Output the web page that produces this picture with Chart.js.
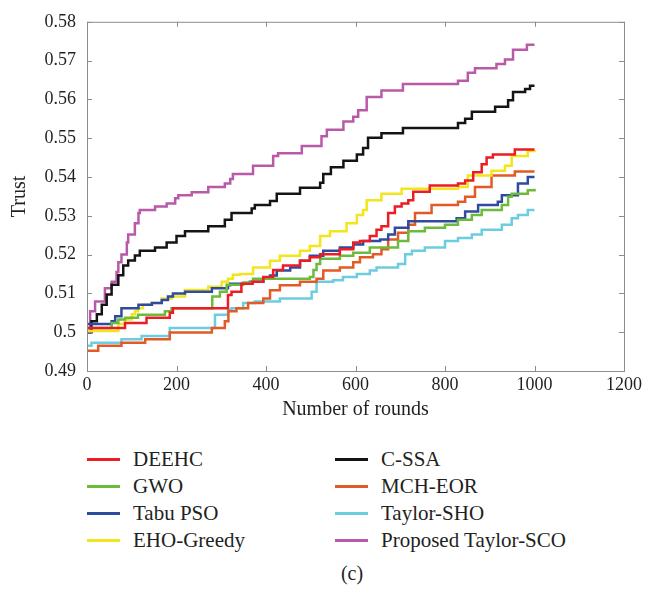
<!DOCTYPE html>
<html>
<head>
<meta charset="utf-8">
<script src="https://cdn.jsdelivr.net/npm/chart.js@4/dist/chart.umd.min.js"></script>
<style>
  body { margin: 0; background: #fff; }
  #wrap { position: relative; width: 645px; height: 593px; font-family: "Liberation Serif", serif; color: #231f20; }
  #myChart { position: absolute; left: 0; top: 0; }
  .leg { position: absolute; font-size: 21px; line-height: 24px; white-space: nowrap; }
  .leg span.ln { position: absolute; width: 33px; height: 3px; top: 11px; }
  #cap { position: absolute; left: 0; width: 704px; top: 562px; text-align: center; font-size: 20px; }
</style>
</head>
<body>
<div id="wrap">
  <canvas id="myChart" width="645" height="425"></canvas>
  <div id="legend"></div>
  <div id="cap">(c)</div>
</div>
<script>
// eje x: numero de rondas, eje y: confianza (trust)
var xTicks = [0, 200, 400, 600, 800, 1000, 1200];
var yTicks = [0.49, 0.50, 0.51, 0.52, 0.53, 0.54, 0.55, 0.56, 0.57, 0.58];

var seriesNames = ["DEEHC", "GWO", "Tabu PSO", "EHO-Greedy", "C-SSA", "MCH-EOR", "Taylor-SHO", "Proposed Taylor-SCO"];

var deehcX = [0, 85, 133, 185, 192, 315, 323, 345, 370, 394, 416, 438, 476, 498, 521, 565, 595, 610, 632, 647, 658, 673, 688, 703, 718, 729, 766, 829, 845, 863, 882, 893, 907, 956, 1000];
var deehcY = [0.5011, 0.5024, 0.5037, 0.505, 0.5062, 0.5096, 0.5104, 0.5125, 0.513, 0.5142, 0.516, 0.5172, 0.5184, 0.5193, 0.5201, 0.5214, 0.5231, 0.5235, 0.5248, 0.5264, 0.5273, 0.5307, 0.5324, 0.5332, 0.534, 0.5362, 0.5378, 0.5383, 0.5391, 0.5412, 0.5433, 0.545, 0.5458, 0.5471, 0.5471];

var gwoX = [0, 55, 70, 85, 114, 174, 189, 280, 297, 312, 349, 371, 498, 506, 513, 521, 565, 595, 632, 695, 718, 755, 800, 829, 860, 882, 927, 941, 949, 985, 1000];
var gwoY = [0.5011, 0.5024, 0.5033, 0.5037, 0.5045, 0.5054, 0.5062, 0.5092, 0.5104, 0.5122, 0.5128, 0.5138, 0.5142, 0.516, 0.5176, 0.5189, 0.5197, 0.5205, 0.5218, 0.5235, 0.526, 0.5269, 0.5277, 0.529, 0.5302, 0.5315, 0.5328, 0.5349, 0.5357, 0.5366, 0.537];

var tabuX = [0, 55, 63, 77, 115, 145, 167, 181, 192, 219, 279, 315, 320, 364, 394, 409, 424, 454, 476, 498, 528, 565, 595, 617, 655, 673, 688, 718, 826, 845, 874, 918, 927, 963, 985, 1000];
var tabuY = [0.5021, 0.5028, 0.5041, 0.5062, 0.5071, 0.5075, 0.5083, 0.5092, 0.51, 0.5104, 0.5113, 0.5121, 0.5125, 0.513, 0.5138, 0.5146, 0.5159, 0.5167, 0.5184, 0.5197, 0.521, 0.5218, 0.5226, 0.5235, 0.5239, 0.5252, 0.5269, 0.5286, 0.5294, 0.5311, 0.5328, 0.5336, 0.5353, 0.5383, 0.54, 0.54];

var ehoX = [0, 70, 85, 100, 107, 114, 125, 145, 167, 189, 219, 271, 301, 315, 326, 342, 371, 409, 431, 476, 498, 521, 543, 580, 603, 617, 625, 658, 703, 829, 851, 904, 934, 949, 985, 1000];
var ehoY = [0.5003, 0.5021, 0.5033, 0.5046, 0.5054, 0.5062, 0.5071, 0.5075, 0.5087, 0.5092, 0.5109, 0.5117, 0.513, 0.5138, 0.5148, 0.515, 0.5167, 0.5184, 0.5197, 0.521, 0.5222, 0.5248, 0.526, 0.5281, 0.5302, 0.5315, 0.534, 0.5357, 0.537, 0.5374, 0.5404, 0.5416, 0.5429, 0.5454, 0.5467, 0.547];

var cssaX = [0, 10, 22, 33, 44, 55, 70, 81, 92, 107, 118, 152, 178, 200, 219, 271, 308, 323, 368, 375, 409, 424, 476, 521, 528, 545, 573, 603, 617, 628, 658, 706, 829, 845, 860, 912, 941, 952, 979, 990, 1000];
var cssaY = [0.50, 0.5028, 0.5046, 0.5071, 0.5097, 0.5122, 0.5147, 0.5172, 0.5185, 0.5198, 0.521, 0.5218, 0.5231, 0.5248, 0.526, 0.5273, 0.529, 0.5307, 0.5319, 0.5328, 0.5338, 0.5357, 0.5372, 0.5385, 0.5408, 0.5425, 0.5442, 0.5458, 0.5475, 0.5501, 0.5513, 0.5526, 0.5539, 0.555, 0.5568, 0.5581, 0.5598, 0.5619, 0.5627, 0.5635, 0.5635];

var mchX = [0, 25, 77, 130, 185, 279, 308, 316, 334, 360, 394, 409, 431, 476, 513, 528, 565, 595, 610, 639, 658, 673, 695, 718, 733, 770, 829, 845, 867, 904, 956, 1000];
var mchY = [0.4952, 0.4965, 0.4973, 0.4982, 0.4999, 0.5011, 0.5028, 0.5054, 0.5062, 0.5075, 0.5087, 0.5108, 0.5121, 0.513, 0.5138, 0.5159, 0.5167, 0.518, 0.5193, 0.5201, 0.5214, 0.5239, 0.5256, 0.5277, 0.5307, 0.5328, 0.5336, 0.5349, 0.5374, 0.5404, 0.5414, 0.5414];

var shoX = [0, 10, 77, 122, 185, 286, 315, 323, 349, 375, 431, 502, 513, 550, 572, 603, 632, 647, 695, 711, 726, 755, 800, 829, 860, 882, 927, 949, 963, 985, 1000];
var shoY = [0.4965, 0.4973, 0.4982, 0.499, 0.5011, 0.5045, 0.5058, 0.5062, 0.5075, 0.5079, 0.5087, 0.5104, 0.513, 0.5134, 0.5142, 0.515, 0.5159, 0.5167, 0.5176, 0.5201, 0.521, 0.5218, 0.5235, 0.5243, 0.5252, 0.5264, 0.5277, 0.5294, 0.5302, 0.5315, 0.5315];

var scoX = [0, 7, 18, 40, 55, 66, 70, 77, 89, 92, 107, 115, 118, 152, 178, 197, 204, 234, 271, 308, 320, 326, 371, 416, 427, 480, 524, 536, 573, 595, 606, 625, 658, 706, 829, 851, 867, 915, 934, 952, 983, 1000];
var scoY = [0.50, 0.5054, 0.5079, 0.5113, 0.513, 0.5155, 0.518, 0.520, 0.5231, 0.5252, 0.5281, 0.5307, 0.5315, 0.5324, 0.5332, 0.5345, 0.5353, 0.5361, 0.5374, 0.5383, 0.5395, 0.5408, 0.5429, 0.5454, 0.5461, 0.548, 0.5505, 0.5522, 0.5543, 0.5555, 0.5572, 0.5606, 0.5623, 0.564, 0.5648, 0.5669, 0.568, 0.5691, 0.5703, 0.5728, 0.5741, 0.5741];

var colores = ["#ec1c24", "#6cbb3c", "#2e4b9f", "#f2e51c", "#141414", "#e25a26", "#6dcde0", "#b95aa9"];

// arma los puntos {x, y} de cada serie
function puntos(xs, ys) {
    var out = [];
    for (var i = 0; i < xs.length; i++) {
        out.push({x: xs[i], y: ys[i]});
    }
    return out;
}

var todos = [
    puntos(deehcX, deehcY), puntos(gwoX, gwoY), puntos(tabuX, tabuY), puntos(ehoX, ehoY),
    puntos(cssaX, cssaY), puntos(mchX, mchY), puntos(shoX, shoY), puntos(scoX, scoY)
];

var datasets = [];
for (var i = 0; i < seriesNames.length; i++) {
    datasets.push({
        label: seriesNames[i],
        data: todos[i],
        borderColor: colores[i],
        backgroundColor: colores[i],
        borderWidth: 2.5,
        pointRadius: 0,
        stepped: true,
        fill: false
    });
}

var fuente = {family: "'Liberation Serif', serif", size: 18};
var fuenteTitulo = {family: "'Liberation Serif', serif", size: 20};

// caja estilo matlab con ticks hacia adentro en los cuatro lados
var cajaTicks = {
    id: "cajaTicks",
    afterDraw: function(chart) {
        var ctx = chart.ctx, a = chart.chartArea;
        var sx = chart.scales.x, sy = chart.scales.y;
        ctx.save();
        ctx.strokeStyle = "#8c8c8c";
        ctx.lineWidth = 1;
        ctx.strokeRect(a.left + 0.5, a.top + 0.5, a.right - a.left, a.bottom - a.top);
        ctx.beginPath();
        xTicks.forEach(function(v) {
            var px = Math.round(sx.getPixelForValue(v)) + 0.5;
            ctx.moveTo(px, a.bottom); ctx.lineTo(px, a.bottom - 5);
            ctx.moveTo(px, a.top); ctx.lineTo(px, a.top + 5);
        });
        yTicks.forEach(function(v) {
            var py = Math.round(sy.getPixelForValue(v)) + 0.5;
            ctx.moveTo(a.left, py); ctx.lineTo(a.left + 5, py);
            ctx.moveTo(a.right, py); ctx.lineTo(a.right - 5, py);
        });
        ctx.stroke();
        ctx.restore();
    }
};

var ctx = document.getElementById("myChart");
var grafico = new Chart(ctx, {
    type: "line",
    data: {datasets: datasets},
    plugins: [cajaTicks],
    options: {
        responsive: false,
        animation: false,
        layout: {padding: {top: 15, right: 21, bottom: 0, left: 0}},
        plugins: {legend: {display: false}, tooltip: {enabled: false}},
        scales: {
            x: {
                type: "linear", min: 0, max: 1200,
                afterBuildTicks: function(s) { s.ticks = xTicks.map(function(v) { return {value: v}; }); },
                afterFit: function(s) { s.height = 54; },
                grid: {display: false, drawTicks: false},
                border: {display: false},
                ticks: {color: "#231f20", font: fuente, padding: 3, maxRotation: 0,
                    callback: function(v) { return String(v); }},
                title: {display: true, text: "Number of rounds", color: "#231f20", font: fuenteTitulo, padding: {top: 0, bottom: 3}}
            },
            y: {
                min: 0.49, max: 0.58,
                afterBuildTicks: function(s) { s.ticks = yTicks.map(function(v) { return {value: v}; }); },
                afterFit: function(s) { s.width = 87; },
                grid: {display: false, drawTicks: false},
                border: {display: false},
                ticks: {
                    color: "#231f20", font: fuente, padding: 11,
                    callback: function(v) { return String(Number(v.toFixed(2))); }
                },
                title: {display: true, text: "Trust", color: "#231f20", font: fuenteTitulo, padding: {top: 8, bottom: 0}}
            }
        }
    }
});

// leyenda en dos columnas debajo del grafico
var columnas = [[0, 1, 2, 3], [4, 5, 6, 7]];
var colX = [87, 335];
var legend = document.getElementById("legend");
columnas.forEach(function(col, c) {
    col.forEach(function(idx, r) {
        var ds = grafico.data.datasets[idx];
        var d = document.createElement("div");
        d.className = "leg";
        d.style.left = colX[c] + "px";
        d.style.top = (447 + r * 27) + "px";
        d.style.paddingLeft = "46px";
        d.innerHTML = '<span class="ln" style="left:0;background:' + ds.borderColor + '"></span>' + ds.label;
        legend.appendChild(d);
    });
});
</script>
</body>
</html>
